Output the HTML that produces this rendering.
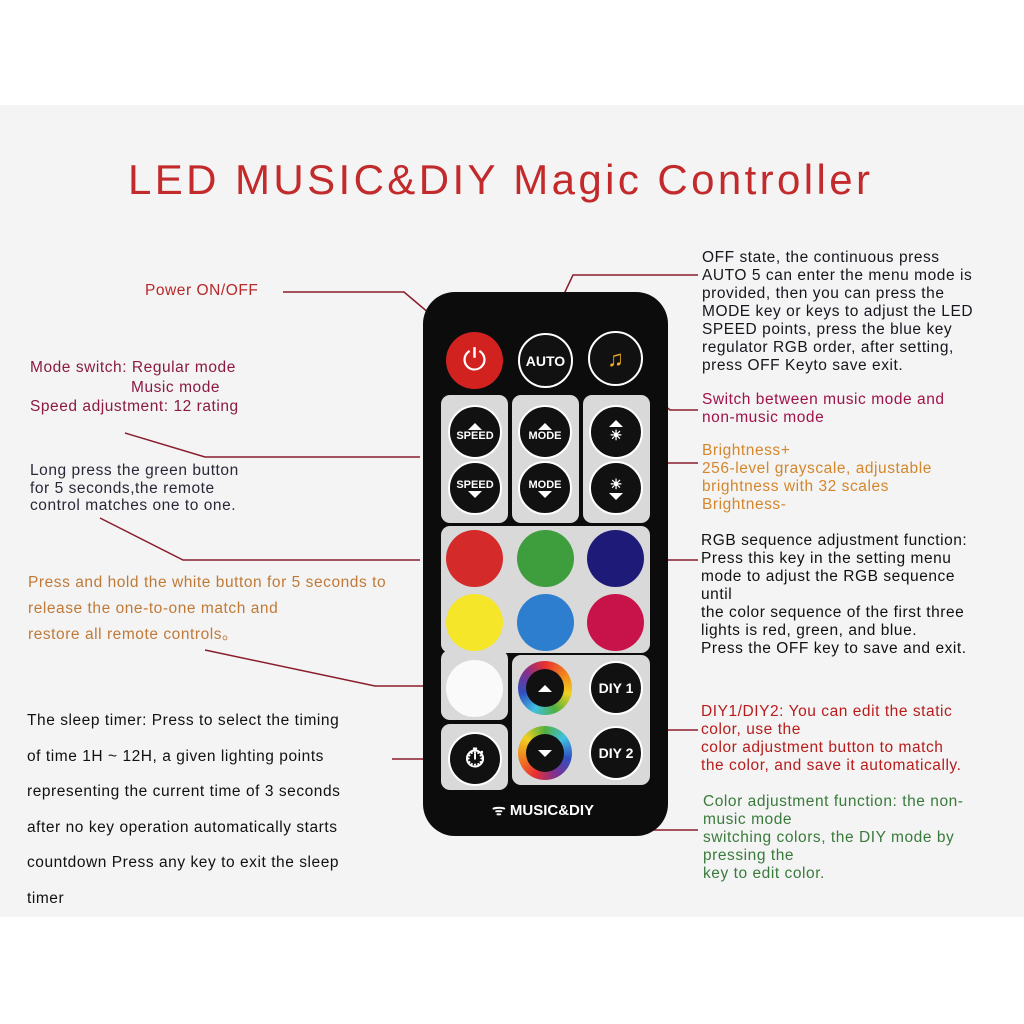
<!DOCTYPE html>
<html><head><meta charset="utf-8"><style>
*{margin:0;padding:0;box-sizing:border-box}
body{width:1024px;height:1024px;background:#fff;position:relative;overflow:hidden;font-family:"Liberation Sans",sans-serif}
.paper{position:absolute;left:0;top:105px;width:1024px;height:812px;background:#f3f4f3}
.t{position:absolute;white-space:nowrap;font-size:15.5px;letter-spacing:0.55px;line-height:18px}
.c{position:absolute;border-radius:50%}
.btn{background:#111;border:2px solid #fff;color:#fff;font-weight:bold;font-size:11px;display:flex;flex-direction:column;align-items:center;justify-content:center}
.pan{position:absolute;background:#d9d9d9;border-radius:9px}
.up{width:0;height:0;border-left:7px solid transparent;border-right:7px solid transparent;border-bottom:7px solid #fff}
.dn{width:0;height:0;border-left:7px solid transparent;border-right:7px solid transparent;border-top:7px solid #fff}
</style></head><body>
<div class="paper"></div>
<div class="t" style="left:128px;top:154px;font-size:42px;line-height:52px;color:#c22a2c;letter-spacing:3.4px">LED MUSIC&amp;DIY Magic Controller</div>

<svg width="1024" height="1024" style="position:absolute;left:0;top:0" fill="none" stroke="#8a1c2c" stroke-width="1.5">
<polyline points="283,292 404,292 455,335"/>
<polyline points="698,275 573,275 545,334"/>
<polyline points="632,378 670,410 698,410"/>
<polyline points="125,433 205,457 420,457"/>
<polyline points="650,463 698,463"/>
<polyline points="100,518 183,560 420,560"/>
<polyline points="650,560 698,560"/>
<polyline points="205,650 375,686 445,686"/>
<polyline points="650,730 698,730"/>
<polyline points="392,759 441,759"/>
<polyline points="575,783 640,830 698,830"/>
</svg>

<div style="position:absolute;left:423px;top:292px;width:245px;height:544px;background:#0c0c0c;border-radius:32px"></div>
<div class="pan" style="left:441px;top:395px;width:67px;height:128px"></div>
<div class="pan" style="left:512px;top:395px;width:67px;height:128px"></div>
<div class="pan" style="left:583px;top:395px;width:67px;height:128px"></div>
<div class="pan" style="left:441px;top:526px;width:209px;height:127px"></div>
<div class="pan" style="left:441px;top:650px;width:67px;height:70px"></div>
<div class="pan" style="left:441px;top:724px;width:67px;height:66px"></div>
<div class="pan" style="left:512px;top:655px;width:138px;height:130px"></div>

<div class="c" style="left:446px;top:332px;width:57px;height:57px;background:#d22220;display:flex;align-items:center;justify-content:center;color:#fff;font-size:30px">⏻</div>
<div class="c btn" style="left:518px;top:333px;width:55px;height:55px;font-size:14px">AUTO</div>
<div class="c btn" style="left:588px;top:331px;width:55px;height:55px;font-size:22px;color:#f0b020">♫</div>

<div class="c btn" style="left:448px;top:405px;width:54px;height:54px"><div class="up"></div>SPEED</div>
<div class="c btn" style="left:448px;top:461px;width:54px;height:54px">SPEED<div class="dn"></div></div>
<div class="c btn" style="left:518px;top:405px;width:54px;height:54px"><div class="up"></div>MODE</div>
<div class="c btn" style="left:518px;top:461px;width:54px;height:54px">MODE<div class="dn"></div></div>
<div class="c btn" style="left:589px;top:405px;width:54px;height:54px;font-size:14px"><div class="up"></div>☀</div>
<div class="c btn" style="left:589px;top:461px;width:54px;height:54px;font-size:14px">☀<div class="dn"></div></div>

<div class="c" style="left:446px;top:530px;width:57px;height:57px;background:#d42a2a"></div>
<div class="c" style="left:517px;top:530px;width:57px;height:57px;background:#3e9e3e"></div>
<div class="c" style="left:587px;top:530px;width:57px;height:57px;background:#1e1a78"></div>
<div class="c" style="left:446px;top:594px;width:57px;height:57px;background:#f5e62a"></div>
<div class="c" style="left:517px;top:594px;width:57px;height:57px;background:#2e7ed0"></div>
<div class="c" style="left:587px;top:594px;width:57px;height:57px;background:#c8134a"></div>
<div class="c" style="left:446px;top:660px;width:57px;height:57px;background:#fafafa"></div>
<div class="c btn" style="left:448px;top:732px;width:54px;height:54px;font-size:26px">⏱</div>

<div class="c" style="left:518px;top:661px;width:54px;height:54px;background:conic-gradient(#e83030,#f08020,#f0d020,#50b040,#40c0e0,#3050c0,#803090,#e83030)"></div>
<div class="c btn" style="left:526px;top:669px;width:38px;height:38px;border:none"><div class="up"></div></div>
<div class="c" style="left:518px;top:726px;width:54px;height:54px;background:conic-gradient(#50b040,#40c0e0,#3050c0,#803090,#e83030,#f08020,#f0d020,#50b040)"></div>
<div class="c btn" style="left:526px;top:734px;width:38px;height:38px;border:none"><div class="dn"></div></div>
<div class="c btn" style="left:589px;top:661px;width:54px;height:54px;font-size:14px">DIY 1</div>
<div class="c btn" style="left:589px;top:726px;width:54px;height:54px;font-size:14px">DIY 2</div>
<div class="t" style="left:492px;top:802px;color:#fff;font-weight:bold;font-size:15px;letter-spacing:0">ᯤ MUSIC&amp;DIY</div>

<div class="t" style="left:145px;top:282px;color:#b8282a">Power ON/OFF</div>
<div class="t" style="left:30px;top:358px;color:#8a1a44;line-height:19.5px">Mode switch: Regular mode<br><span style="padding-left:101px">Music mode</span><br>Speed adjustment: 12 rating</div>
<div class="t" style="left:30px;top:462px;color:#2a2838;line-height:17.5px">Long press the green button<br>for 5 seconds,the remote<br>control matches one to one.</div>
<div class="t" style="left:28px;top:570px;color:#c07a38;line-height:26px">Press and hold the white button for 5 seconds to<br>release the one-to-one match and<br>restore all remote controls。</div>
<div class="t" style="left:27px;top:703px;color:#111;line-height:35.5px">The sleep timer: Press to select the timing<br>of time 1H ~ 12H, a given lighting points<br>representing the current time of 3 seconds<br>after no key operation automatically starts<br>countdown Press any key to exit the sleep<br>timer</div>

<div class="t" style="left:702px;top:249px;color:#16161e">OFF state, the continuous press<br>AUTO 5 can enter the menu mode is<br>provided, then you can press the<br>MODE key or keys to adjust the LED<br>SPEED points, press the blue key<br>regulator RGB order, after setting,<br>press OFF Keyto save exit.</div>
<div class="t" style="left:702px;top:391px;color:#a0124a">Switch between music mode and<br>non-music mode</div>
<div class="t" style="left:702px;top:442px;color:#d4862c">Brightness+<br>256-level grayscale, adjustable<br>brightness with 32 scales<br>Brightness-</div>
<div class="t" style="left:701px;top:532px;color:#111">RGB sequence adjustment function:<br>Press this key in the setting menu<br>mode to adjust the RGB sequence<br>until<br>the color sequence of the first three<br>lights is red, green, and blue.<br>Press the OFF key to save and exit.</div>
<div class="t" style="left:701px;top:703px;color:#b81c1c">DIY1/DIY2: You can edit the static<br>color, use the<br>color adjustment button to match<br>the color, and save it automatically.</div>
<div class="t" style="left:703px;top:793px;color:#3a7a3c">Color adjustment function: the non-<br>music mode<br>switching colors, the DIY mode by<br>pressing the<br>key to edit color.</div>
</body></html>
